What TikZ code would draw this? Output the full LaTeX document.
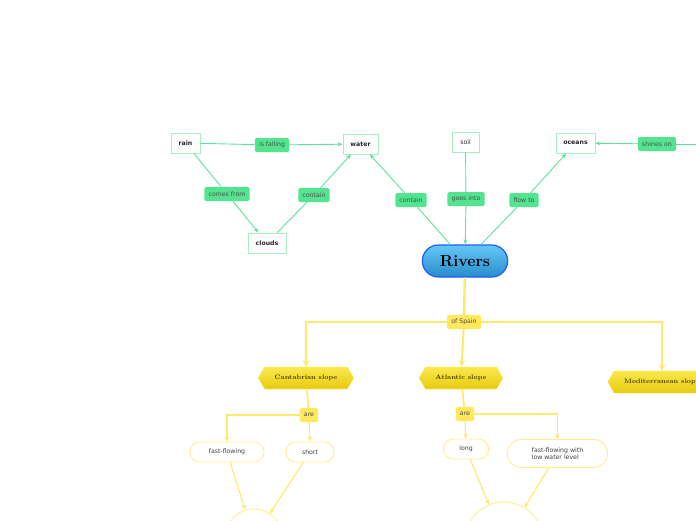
\documentclass[tikz,border=0pt]{standalone}
\usepackage{fontspec}
\newfontfamily\dv{DejaVu Sans}
\usetikzlibrary{arrows.meta,shapes.symbols,shapes.misc}
\definecolor{glab}{HTML}{52E48E}
\definecolor{gline}{HTML}{5CE39B}
\definecolor{gbord}{HTML}{A6EFC4}
\definecolor{ylab}{HTML}{FFE85C}
\definecolor{yline}{HTML}{FFE96A}
\definecolor{ybord}{HTML}{FFEE8E}
\definecolor{ytop}{HTML}{FBE84A}
\definecolor{ybot}{HTML}{E6CB12}
\definecolor{ytxt}{HTML}{4A3E00}
\tikzset{
  concept/.style={draw=gbord, fill=white, line width=0.8pt, font=\dv\fontsize{6.2}{7}\selectfont\bfseries, text=black!85, minimum height=20pt, inner xsep=3pt},
  glabel/.style={fill=glab, rounded corners=1.5pt, font=\dv\fontsize{6.2}{7}\selectfont, text=black!70, minimum height=14pt, inner xsep=4.2pt},
  gedge/.style={draw=gline, line width=0.9pt},
  garrow/.style={gedge, -{Stealth[length=5pt,width=4pt]}},
  ylabel/.style={fill=ylab, rounded corners=1.5pt, font=\dv\fontsize{6.2}{7}\selectfont, text=black!70, minimum height=14pt, inner xsep=4.2pt},
  slope/.style={signal, signal to=west and east, signal pointer angle=120, shade, top color=ytop, bottom color=ybot, draw=ytop, font=\fontsize{6.5}{7}\selectfont\bfseries, text=ytxt, minimum height=22pt, inner xsep=10pt},
  leaf/.style={draw=ybord, fill=white, line width=0.9pt, rounded rectangle, font=\dv\fontsize{6.2}{7.6}\selectfont, text=black!75, minimum height=20pt, align=left},
  ythick/.style={draw=yline, line width=2.4pt},
  yarrow/.style={draw=yline, line width=2pt, -{Stealth[length=7pt,width=7pt,inset=3pt]}},
  ythin/.style={draw=yline, line width=1.1pt, -{Stealth[length=5pt,width=5pt]}},
}
\begin{document}
\begin{tikzpicture}[x=1pt,y=-1pt]
\useasboundingbox (0,0) rectangle (696,520);
% green concept nodes
\node[concept, minimum width=29pt] (rain) at (185.5,143) {rain};
\node[concept, minimum width=35pt] (water) at (360.5,144) {water};
\node[concept, minimum width=38pt] (clouds) at (267,243) {clouds};
\node[concept, minimum width=27pt, font=\dv\fontsize{6.2}{7}\selectfont] (soil) at (465.5,142) {soil};
\node[concept, minimum width=39pt] (oceans) at (575.5,143) {oceans};
\node[rounded rectangle, draw={rgb,255:red,30;green,90;blue,255}, line width=1.2pt, shade, top color={rgb,255:red,100;green,200;blue,245}, bottom color={rgb,255:red,40;green,140;blue,205}, minimum width=92pt, minimum height=32pt, font=\fontsize{16}{17}\selectfont\bfseries] (rivers) at (465,261) {Rivers};
% green labels
\node[glabel] (isfalling) at (272,145) {is falling};
\node[glabel] (comesfrom) at (227,194) {comes from};
\node[glabel] (contain1) at (314,195) {contain};
\node[glabel] (contain2) at (411,200) {contain};
\node[glabel] (goesinto) at (466,199) {goes into};
\node[glabel] (flowto) at (524,200) {flow to};
\node[glabel] (shineson) at (657,144) {shines on};
\coordinate (shinesrc) at (700,144);
% green connectors
\draw[gedge] (rain) -- (isfalling);
\draw[garrow] (isfalling) -- (water);
\draw[gedge] (rain) -- (comesfrom);
\draw[garrow] (comesfrom) -- (clouds);
\draw[gedge] (clouds) -- (contain1);
\draw[garrow] (contain1) -- (water);
\draw[gedge] (rivers) -- (contain2);
\draw[garrow] (contain2) -- (water);
\draw[gedge] (soil) -- (goesinto);
\draw[garrow] (goesinto) -- (rivers);
\draw[gedge] (rivers) -- (flowto);
\draw[garrow] (flowto) -- (oceans);
\draw[gedge] (shinesrc) -- (shineson);
\draw[garrow] (shineson) -- (oceans);
% yellow tree
\node[ylabel] (ofspain) at (464,322) {of Spain};
\node[slope] (cant) at (306,378) {Cantabrian slope};
\node[slope] (atl) at (461,378) {Atlantic slope};
\node[slope] (med) at (662,382) {Mediterranean slope};
\node[ylabel] (are1) at (309,415) {are};
\node[ylabel] (are2) at (465,414) {are};
\node[leaf, minimum width=81pt] (ff1) at (227,452) {fast-flowing};
\node[leaf, minimum width=55pt] (short) at (310,452) {short};
\node[leaf, minimum width=52pt] (long) at (466,449) {long};
\node[leaf, minimum width=107pt, minimum height=28pt] (ffl) at (557.5,453.5) {fast-flowing with\\low water level};
\node[circle, draw=ybord, line width=0.9pt, minimum size=58pt] (c1) at (254,538) {};
\node[circle, draw=ybord, line width=0.9pt, minimum size=78pt] (c2) at (504,541) {};
\draw[ythick] (rivers) -- (ofspain);
\draw[yarrow] (ofspain.west) -| (cant.north);
\draw[yarrow] (ofspain) -- (atl);
\draw[yarrow] (ofspain.east) -| (med.north);
\draw[ythick, line width=1.6pt] (cant) -- (are1);
\draw[ythick, line width=1.6pt] (atl) -- (are2);
\draw[ythin] (are1.west) -| (ff1.north);
\draw[ythin] (are1) -- (short);
\draw[ythin] (are2) -- (long);
\draw[ythin] (are2.east) -| (ffl.north);
\draw[ythin] (ff1) -- (c1);
\draw[ythin] (short) -- (c1);
\draw[ythin] (long) -- (c2);
\draw[ythin] (ffl) -- (c2);
\end{tikzpicture}
\end{document}
